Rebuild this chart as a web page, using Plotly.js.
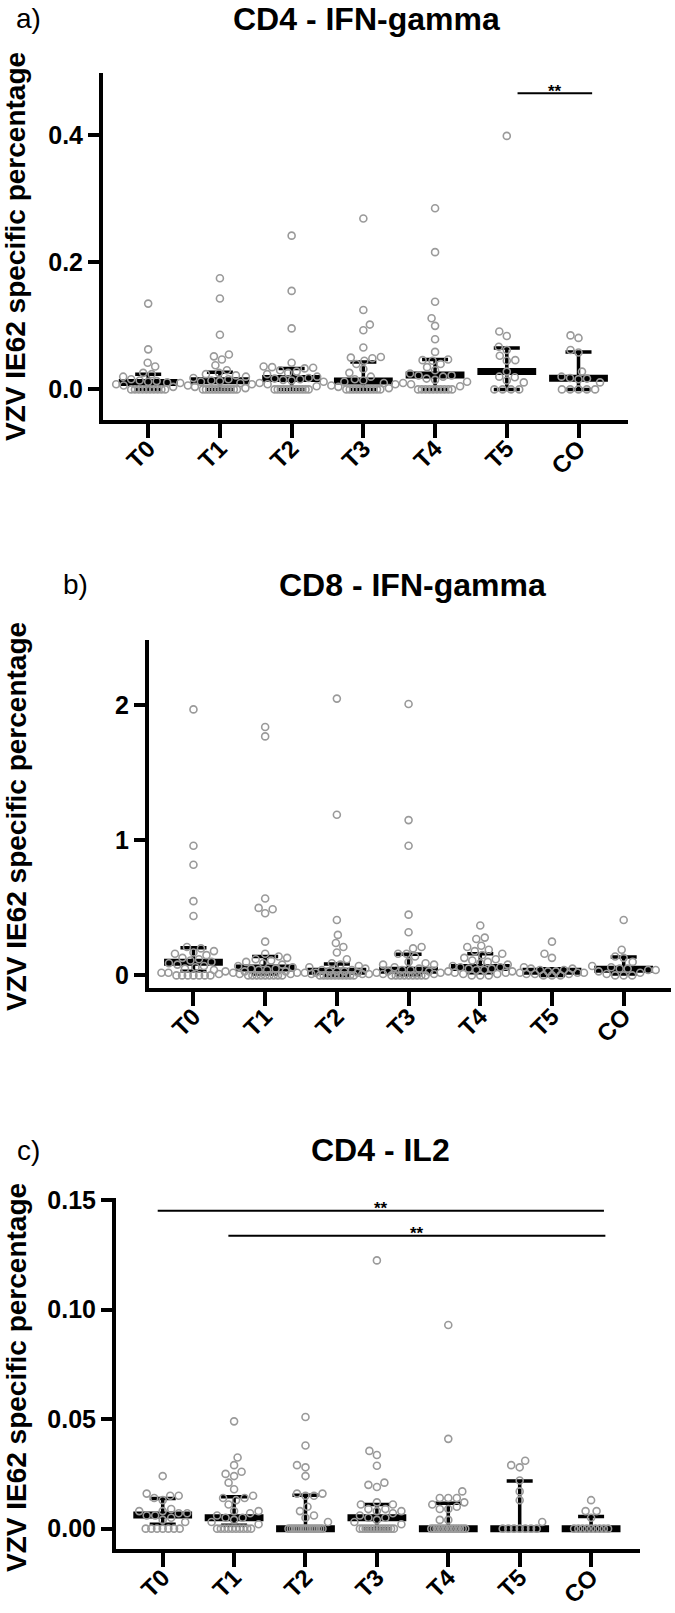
<!DOCTYPE html>
<html>
<head>
<meta charset="utf-8">
<script src="https://cdn.plot.ly/plotly-3.0.1.min.js"></script>
<style>html,body{margin:0;padding:0;background:#fff;}#chart{width:675px;height:1613px;}</style>
</head>
<body>
<div id="chart"></div>
<script>
// ---------------- DATA ----------------
const categories = ['T0', 'T1', 'T2', 'T3', 'T4', 'T5', 'CO'];

// a) CD4 - IFN-gamma
const cd4Ifn_T0 = [0.135, 0.063, 0.042, 0.036, 0.026, 0.024, 0.020, 0.016, 0.014, 0.013, 0.012, 0.011, 0.010, 0.008, 0.006, 0.004, 0, 0, 0, 0, 0, 0, 0, 0, 0, 0];
const cd4Ifn_T1 = [0.175, 0.143, 0.086, 0.055, 0.052, 0.047, 0.038, 0.030, 0.026, 0.024, 0.022, 0.020, 0.018, 0.016, 0.014, 0.013, 0.012, 0.010, 0.008, 0.006, 0.004, 0.002, 0, 0, 0, 0, 0, 0, 0, 0, 0, 0, 0, 0];
const cd4Ifn_T2 = [0.242, 0.155, 0.096, 0.042, 0.036, 0.035, 0.034, 0.033, 0.030, 0.028, 0.026, 0.024, 0.020, 0.018, 0.017, 0.016, 0.015, 0.014, 0.012, 0.010, 0.008, 0.005, 0, 0, 0, 0, 0, 0, 0, 0, 0, 0, 0, 0];
const cd4Ifn_T3 = [0.269, 0.125, 0.102, 0.093, 0.066, 0.051, 0.050, 0.049, 0.045, 0.040, 0.032, 0.026, 0.020, 0.016, 0.014, 0.012, 0.010, 0.008, 0.006, 0.004, 0.002, 0, 0, 0, 0, 0, 0, 0, 0, 0, 0, 0];
const cd4Ifn_T4 = [0.285, 0.216, 0.138, 0.112, 0.100, 0.079, 0.059, 0.047, 0.046, 0.045, 0.040, 0.035, 0.030, 0.025, 0.022, 0.022, 0.020, 0.017, 0.015, 0.012, 0.010, 0.008, 0.005, 0, 0, 0, 0, 0, 0, 0, 0, 0, 0];
const cd4Ifn_T5 = [0.399, 0.091, 0.084, 0.067, 0.062, 0.053, 0.046, 0.045, 0.028, 0.020, 0.019, 0.014, 0.011, 0, 0, 0, 0];
const cd4Ifn_CO = [0.085, 0.081, 0.062, 0.058, 0.028, 0.020, 0.018, 0.017, 0.016, 0.011, 0, 0, 0, 0, 0];
const cd4Ifn_median = [0.011, 0.0137, 0.017, 0.013, 0.0227, 0.028, 0.0175];
const cd4Ifn_q1 = [0, 0, 0, 0, 0, 0, 0];
const cd4Ifn_q3 = [0.024, 0.027, 0.033, 0.043, 0.047, 0.065, 0.059];
const cd4Ifn_sigFrom = [5.15];
const cd4Ifn_sigTo = [6.19];
const cd4Ifn_sigY = [0.466];

// b) CD8 - IFN-gamma
const cd8Ifn_T0 = [1.97, 0.96, 0.82, 0.55, 0.44, 0.21, 0.20, 0.18, 0.17, 0.16, 0.15, 0.13, 0.12, 0.11, 0.10, 0.09, 0.08, 0.07, 0.06, 0.05, 0.04, 0.03, 0.02, 0.02, 0.01, 0, 0, 0, 0, 0, 0, 0];
const cd8Ifn_T1 = [1.84, 1.77, 0.57, 0.50, 0.49, 0.46, 0.25, 0.16, 0.14, 0.13, 0.12, 0.11, 0.10, 0.09, 0.08, 0.07, 0.06, 0.05, 0.05, 0.04, 0.04, 0.03, 0.03, 0.02, 0.02, 0.01, 0.01, 0, 0, 0, 0, 0, 0, 0, 0, 0];
const cd8Ifn_T2 = [2.05, 1.19, 0.41, 0.30, 0.24, 0.21, 0.17, 0.12, 0.09, 0.08, 0.07, 0.06, 0.05, 0.04, 0.04, 0.03, 0.03, 0.03, 0.02, 0.02, 0.02, 0.01, 0.01, 0.01, 0, 0, 0, 0, 0, 0, 0, 0, 0, 0];
const cd8Ifn_T3 = [2.01, 1.15, 0.96, 0.45, 0.32, 0.21, 0.20, 0.16, 0.16, 0.14, 0.10, 0.09, 0.08, 0.08, 0.06, 0.05, 0.04, 0.04, 0.03, 0.03, 0.02, 0.02, 0.01, 0.01, 0, 0, 0, 0, 0, 0, 0, 0, 0];
const cd8Ifn_T4 = [0.37, 0.28, 0.27, 0.22, 0.21, 0.19, 0.18, 0.16, 0.15, 0.13, 0.12, 0.11, 0.10, 0.09, 0.08, 0.07, 0.06, 0.06, 0.05, 0.05, 0.04, 0.04, 0.03, 0.03, 0.02, 0.02, 0.01, 0.01, 0, 0, 0];
const cd8Ifn_T5 = [0.25, 0.16, 0.13, 0.06, 0.05, 0.05, 0.04, 0.04, 0.03, 0.03, 0.02, 0.02, 0.02, 0.01, 0.01, 0.01, 0, 0, 0];
const cd8Ifn_CO = [0.41, 0.19, 0.14, 0.13, 0.10, 0.07, 0.06, 0.05, 0.05, 0.04, 0.04, 0.03, 0.02, 0.01, 0, 0, 0];
const cd8Ifn_median = [0.097, 0.054, 0.030, 0.038, 0.059, 0.030, 0.046];
const cd8Ifn_q1 = [0.03, 0.01, 0, 0.005, 0.02, 0, 0.01];
const cd8Ifn_q3 = [0.205, 0.14, 0.085, 0.156, 0.16, 0.05, 0.136];

// c) CD4 - IL2
const cd4Il2_T0 = [0.024, 0.016, 0.015, 0.015, 0.014, 0.013, 0.009, 0.008, 0.008, 0.007, 0.007, 0.006, 0.006, 0.005, 0.004, 0.003, 0, 0, 0, 0, 0, 0, 0];
const cd4Il2_T1 = [0.049, 0.0325, 0.029, 0.026, 0.025, 0.024, 0.021, 0.018, 0.015, 0.014, 0.014, 0.013, 0.011, 0.008, 0.008, 0.007, 0.006, 0.005, 0.005, 0.004, 0.003, 0.002, 0, 0, 0, 0, 0, 0, 0, 0, 0, 0];
const cd4Il2_T2 = [0.051, 0.038, 0.029, 0.028, 0.024, 0.016, 0.016, 0.015, 0.015, 0.010, 0.008, 0.006, 0.005, 0.003, 0, 0, 0, 0, 0, 0, 0, 0, 0, 0, 0, 0, 0, 0, 0, 0];
const cd4Il2_T3 = [0.1225, 0.0355, 0.0336, 0.0287, 0.021, 0.020, 0.019, 0.012, 0.011, 0.011, 0.009, 0.009, 0.008, 0.008, 0.007, 0.006, 0.005, 0.005, 0.004, 0.003, 0.002, 0, 0, 0, 0, 0, 0, 0, 0, 0, 0, 0, 0, 0];
const cd4Il2_T4 = [0.093, 0.041, 0.017, 0.014, 0.014, 0.014, 0.012, 0.011, 0.010, 0.009, 0.009, 0.004, 0.004, 0, 0, 0, 0, 0, 0, 0, 0, 0, 0, 0, 0, 0, 0];
const cd4Il2_T5 = [0.031, 0.029, 0.028, 0.022, 0.017, 0.013, 0.003, 0, 0, 0, 0, 0, 0, 0];
const cd4Il2_CO = [0.013, 0.008, 0.008, 0.005, 0, 0, 0, 0, 0, 0, 0, 0, 0];
const cd4Il2_median = [0.0062, 0.005, 0, 0.005, 0, 0, 0];
const cd4Il2_q1 = [0.002, 0.0015, 0, 0, 0, 0, 0];
const cd4Il2_q3 = [0.0138, 0.0146, 0.0153, 0.011, 0.0116, 0.0217, 0.0055];
const cd4Il2_sigFrom = [-0.07, 0.92];
const cd4Il2_sigTo = [6.18, 6.20];
const cd4Il2_sigY = [0.1452, 0.1338];

// ---------------- LAYOUT / DRAW ----------------
const W = 675, H = 1613;
const FONT = 'Liberation Sans, Arial, Helvetica, sans-serif';

const panels = [
  { title: 'CD4 - IFN-gamma', letter: 'a)', px: [103, 628], py: [73, 420], xr: [-0.63, 6.69], yr: [-0.0482, 0.498],
    tickvals: [0, 0.2, 0.4], ticktext: ['0.0', '0.2', '0.4'], titleX: 366, titleY: 19, letterX: 29, ytitleY: 247,
    groups: [cd4Ifn_T0, cd4Ifn_T1, cd4Ifn_T2, cd4Ifn_T3, cd4Ifn_T4, cd4Ifn_T5, cd4Ifn_CO],
    med: cd4Ifn_median, q1: cd4Ifn_q1, q3: cd4Ifn_q3, sigFrom: cd4Ifn_sigFrom, sigTo: cd4Ifn_sigTo, sigY: cd4Ifn_sigY },
  { title: 'CD8 - IFN-gamma', letter: 'b)', px: [149, 671], py: [640, 988], xr: [-0.62, 6.66], yr: [-0.0933, 2.484],
    tickvals: [0, 1, 2], ticktext: ['0', '1', '2'], titleX: 412, titleY: 585, letterX: 75, ytitleY: 817,
    groups: [cd8Ifn_T0, cd8Ifn_T1, cd8Ifn_T2, cd8Ifn_T3, cd8Ifn_T4, cd8Ifn_T5, cd8Ifn_CO],
    med: cd8Ifn_median, q1: cd8Ifn_q1, q3: cd8Ifn_q3, sigFrom: [], sigTo: [], sigY: [] },
  { title: 'CD4 - IL2', letter: 'c)', px: [116, 640], py: [1198, 1549], xr: [-0.654, 6.685], yr: [-0.0093, 0.151],
    tickvals: [0, 0.05, 0.10, 0.15], ticktext: ['0.00', '0.05', '0.10', '0.15'], titleX: 380, titleY: 1150, letterX: 29, ytitleY: 1378,
    groups: [cd4Il2_T0, cd4Il2_T1, cd4Il2_T2, cd4Il2_T3, cd4Il2_T4, cd4Il2_T5, cd4Il2_CO],
    med: cd4Il2_median, q1: cd4Il2_q1, q3: cd4Il2_q3, sigFrom: cd4Il2_sigFrom, sigTo: cd4Il2_sigTo, sigY: cd4Il2_sigY }
];

// deterministic beeswarm (pixel space)
function swarm(values, pyScale, D, maxHalf, tieHalf) {
  const n = values.length;
  const off = new Array(n).fill(0);
  const done = new Array(n).fill(false);
  const placed = [];
  const counts = {};
  values.forEach(v => { counts[v] = (counts[v] || 0) + 1; });
  Object.keys(counts).forEach(k => {
    const c = counts[k];
    if (c < 4) return;
    const idx = [];
    values.forEach((v, i) => { if (v === +k) idx.push(i); });
    const width = Math.min((c - 1) * D, 2 * tieHalf);
    idx.forEach((i, j) => {
      off[i] = -width / 2 + j * width / (c - 1);
      done[i] = true;
      placed.push({ x: off[i], y: values[i] * pyScale });
    });
  });
  const order = values.map((v, i) => i).filter(i => !done[i]).sort((a, b) => values[a] - values[b]);
  order.forEach((i, k) => {
    const y = values[i] * pyScale;
    let best = null, fb = 0, fbScore = -1;
    const sgn = (k % 2 === 0) ? 1 : -1;
    for (let s = 0; s <= maxHalf && best === null; s += 0.5) {
      const cands = s === 0 ? [0] : [sgn * s, -sgn * s];
      for (const sx of cands) {
        let m = Infinity;
        for (const p of placed) { const d = Math.hypot(p.x - sx, p.y - y); if (d < m) m = d; }
        if (m >= D) { best = sx; break; }
        if (m > fbScore) { fbScore = m; fb = sx; }
      }
    }
    if (best === null) best = fb;
    off[i] = best;
    placed.push({ x: best, y: y });
  });
  return off;
}

const traces = [];
const layout = {
  width: W, height: H, margin: { l: 0, r: 0, t: 0, b: 0 },
  paper_bgcolor: '#fff', plot_bgcolor: '#fff', showlegend: false,
  font: { family: FONT, color: '#000' },
  annotations: [], shapes: []
};

panels.forEach((p, pi) => {
  const sfx = pi === 0 ? '' : String(pi + 1);
  const xa = 'x' + sfx, ya = 'y' + sfx;
  const pxPerX = (p.px[1] - p.px[0]) / (p.xr[1] - p.xr[0]);
  const pxPerY = (p.py[1] - p.py[0]) / (p.yr[1] - p.yr[0]);

  layout['xaxis' + sfx] = {
    domain: [p.px[0] / W, p.px[1] / W], range: p.xr, anchor: ya,
    showgrid: false, zeroline: false, showline: true, linecolor: '#000', linewidth: 4,
    ticks: 'outside', ticklen: 14, tickwidth: 4, tickcolor: '#000',
    tickvals: categories.map((c, i) => i), ticktext: categories, tickangle: -45, ticklabelstandoff: -13,
    tickfont: { family: FONT, size: 24, color: '#000', weight: 700 }, fixedrange: true
  };
  layout['yaxis' + sfx] = {
    domain: [1 - p.py[1] / H, 1 - p.py[0] / H], range: p.yr, anchor: xa,
    showgrid: false, zeroline: false, showline: true, linecolor: '#000', linewidth: 4,
    ticks: 'outside', ticklen: 11, tickwidth: 4, tickcolor: '#000',
    tickvals: p.tickvals, ticktext: p.ticktext,
    tickfont: { family: FONT, size: 25, color: '#000', weight: 700 }, fixedrange: true
  };

  // median + interquartile range (line-ew marker width = 1.4 * size)
  traces.push({
    type: 'scatter', mode: 'markers', xaxis: xa, yaxis: ya,
    x: categories.map((c, i) => i), y: p.med,
    marker: { symbol: 'line-ew', size: 42, color: '#000', line: { color: '#000', width: 7 } },
    error_y: { type: 'data', symmetric: false,
      array: p.q3.map((v, i) => v - p.med[i]), arrayminus: p.med.map((v, i) => v - p.q1[i]),
      color: '#000', thickness: 3.5, width: 13 },
    hoverinfo: 'skip'
  });

  // individual points
  const xs = [], ys = [];
  p.groups.forEach((vals, gi) => {
    const off = swarm(vals, pxPerY, 8.3, 32, 17);
    vals.forEach((v, j) => { xs.push(gi + off[j] / pxPerX); ys.push(v); });
  });
  traces.push({
    type: 'scatter', mode: 'markers', xaxis: xa, yaxis: ya, x: xs, y: ys,
    marker: { symbol: 'circle-open', size: 7, color: '#9a9a9a', line: { width: 1.6, color: '#9a9a9a' } },
    hoverinfo: 'y'
  });

  // significance bars
  p.sigY.forEach((yv, k) => {
    layout.shapes.push({ type: 'line', xref: xa, yref: ya, x0: p.sigFrom[k], x1: p.sigTo[k], y0: yv, y1: yv,
      line: { color: '#000', width: 2 } });
    layout.annotations.push({ xref: xa, yref: ya, x: (p.sigFrom[k] + p.sigTo[k]) / 2, y: yv, text: '<b>**</b>',
      showarrow: false, xanchor: 'center', yanchor: 'middle', yshift: 2, font: { family: FONT, size: 17, color: '#000' } });
  });

  // panel title, letter, y title
  layout.annotations.push({ xref: 'paper', yref: 'paper', x: p.titleX / W, y: 1 - p.titleY / H, text: '<b>' + p.title + '</b>',
    showarrow: false, xanchor: 'center', yanchor: 'middle', font: { family: FONT, size: 32, color: '#000' } });
  layout.annotations.push({ xref: 'paper', yref: 'paper', x: p.letterX / W, y: 1 - p.titleY / H, text: p.letter,
    showarrow: false, xanchor: 'center', yanchor: 'middle', font: { family: FONT, size: 28, color: '#000' } });
  layout.annotations.push({ xref: 'paper', yref: 'paper', x: 16 / W, y: 1 - p.ytitleY / H, text: '<b>VZV IE62 specific percentage</b>',
    textangle: -90, showarrow: false, xanchor: 'center', yanchor: 'middle', font: { family: FONT, size: 28, color: '#000' } });
});

Plotly.newPlot('chart', traces, layout, { staticPlot: true, displayModeBar: false });
</script>
</body>
</html>
